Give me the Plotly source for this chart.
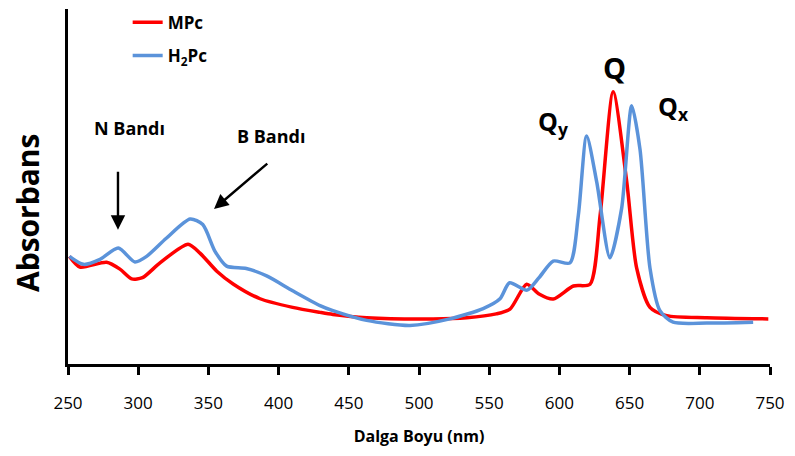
import plotly.graph_objects as go

# MPc (red) spectrum
mpc_nm = [251, 258.5, 277.5, 287, 295.4, 303, 315.5, 335.5, 344, 356, 367.6, 386.8,
          410, 429.5, 438.7, 462.7, 510, 534, 555, 564.8, 576.7, 585.5, 595.6, 610,
          621.8, 629, 638.3, 648, 655, 664.5, 676.4, 705, 748.8]
mpc_abs = [0.363, 0.327, 0.343, 0.320, 0.287, 0.291, 0.341, 0.404, 0.374, 0.313, 0.270, 0.220,
           0.191, 0.174, 0.167, 0.156, 0.152, 0.156, 0.169, 0.185, 0.269, 0.236, 0.219, 0.263,
           0.269, 0.502, 0.918, 0.613, 0.324, 0.191, 0.163, 0.156, 0.152]

# H2Pc (blue) spectrum
h2pc_nm = [251, 261, 272.8, 285.8, 297.7, 306, 320, 337, 346, 354.7, 363, 377, 391.5,
           410, 429.5, 438.7, 462.7, 493.6, 522, 545.7, 557.7, 564.5, 577, 585.5, 595.6,
           607.5, 613.5, 619.4, 626.6, 636, 644.3, 651.5, 657.4, 664.5, 671.6, 681, 705, 738]
h2pc_abs = [0.363, 0.336, 0.353, 0.391, 0.344, 0.363, 0.424, 0.489, 0.470, 0.380, 0.330, 0.322, 0.297,
            0.247, 0.197, 0.180, 0.147, 0.130, 0.152, 0.187, 0.220, 0.274, 0.249, 0.291, 0.347,
            0.341, 0.502, 0.769, 0.613, 0.358, 0.524, 0.871, 0.724, 0.324, 0.180, 0.141, 0.138, 0.141]

x_ticks = [250, 300, 350, 400, 450, 500, 550, 600, 650, 700, 750]

FONT = "Open Sans, sans-serif"

fig = go.Figure()
fig.add_trace(go.Scatter(x=mpc_nm, y=mpc_abs, mode="lines", name="<b>MPc</b>",
                         line=dict(color="#FF0000", width=3.5, shape="spline", smoothing=0.7),
                         legendgroup="a"))
fig.add_trace(go.Scatter(x=h2pc_nm, y=h2pc_abs, mode="lines", name="<b>H<sub>2</sub>Pc</b>",
                         line=dict(color="#5B93DA", width=3.5, shape="spline", smoothing=0.7),
                         legendgroup="b"))

ann_font = dict(family=FONT, color="black")
fig.add_annotation(x=294, y=0.797, text="<b>N Bandı</b>", showarrow=False, font=dict(size=18, **ann_font))
fig.add_annotation(x=394.6, y=0.77, text="<b>B Bandı</b>", showarrow=False, font=dict(size=18, **ann_font))
fig.add_annotation(x=285.6, y=0.453, ax=285.6, ay=0.653, axref="x", ayref="y", text="",
                   showarrow=True, arrowhead=2, arrowsize=1.2, arrowwidth=2.4, arrowcolor="black")
fig.add_annotation(x=354, y=0.523, ax=393, ay=0.68, axref="x", ayref="y", text="",
                   showarrow=True, arrowhead=2, arrowsize=1.2, arrowwidth=2.4, arrowcolor="black")
fig.add_annotation(x=638.9, y=1.0, text="<b>Q</b>", showarrow=False, font=dict(size=29, **ann_font))
fig.add_annotation(x=595.4, y=0.815, text="<b>Q<sub>y</sub></b>", showarrow=False, font=dict(size=25, **ann_font))
fig.add_annotation(x=681, y=0.865, text="<b>Q<sub>x</sub></b>", showarrow=False, font=dict(size=25, **ann_font))
# y-axis title (placed slightly below the axis centre, as in the reference)
fig.add_annotation(xref="paper", yref="paper", x=-0.058, y=0.426, xanchor="center", yanchor="middle",
                   text="<b>Absorbans</b>", textangle=-90, showarrow=False, font=dict(size=30, **ann_font))

fig.update_layout(
    width=795, height=456,
    margin=dict(l=68, r=25, t=5, b=92),
    plot_bgcolor="white", paper_bgcolor="white",
    font=dict(family=FONT, color="black"),
    showlegend=True,
    legend=dict(x=0.085, y=1.012, xanchor="left", yanchor="top", bgcolor="rgba(0,0,0,0)",
                font=dict(size=17, family=FONT), tracegroupgap=8, itemwidth=30),
    xaxis=dict(range=[250, 750], tickvals=x_ticks, ticktext=[str(v) for v in x_ticks],
               showline=True, linecolor="black", linewidth=2.5, ticks="outside", ticklen=8,
               tickwidth=2.5, tickcolor="black", showgrid=False, zeroline=False,
               tickfont=dict(size=17, family=FONT), ticklabelstandoff=14, automargin=False,
               title=dict(text="<b>Dalga Boyu (nm)</b>", font=dict(size=16, family=FONT), standoff=18)),
    yaxis=dict(range=[0, 1.197], showline=True, linecolor="black", linewidth=2.5,
               showticklabels=False, ticks="", showgrid=False, zeroline=False, automargin=False),
)

fig.write_html("out.html", config={"displayModeBar": False},
               post_script="document.body.style.margin='0';document.body.style.overflow='hidden';")
